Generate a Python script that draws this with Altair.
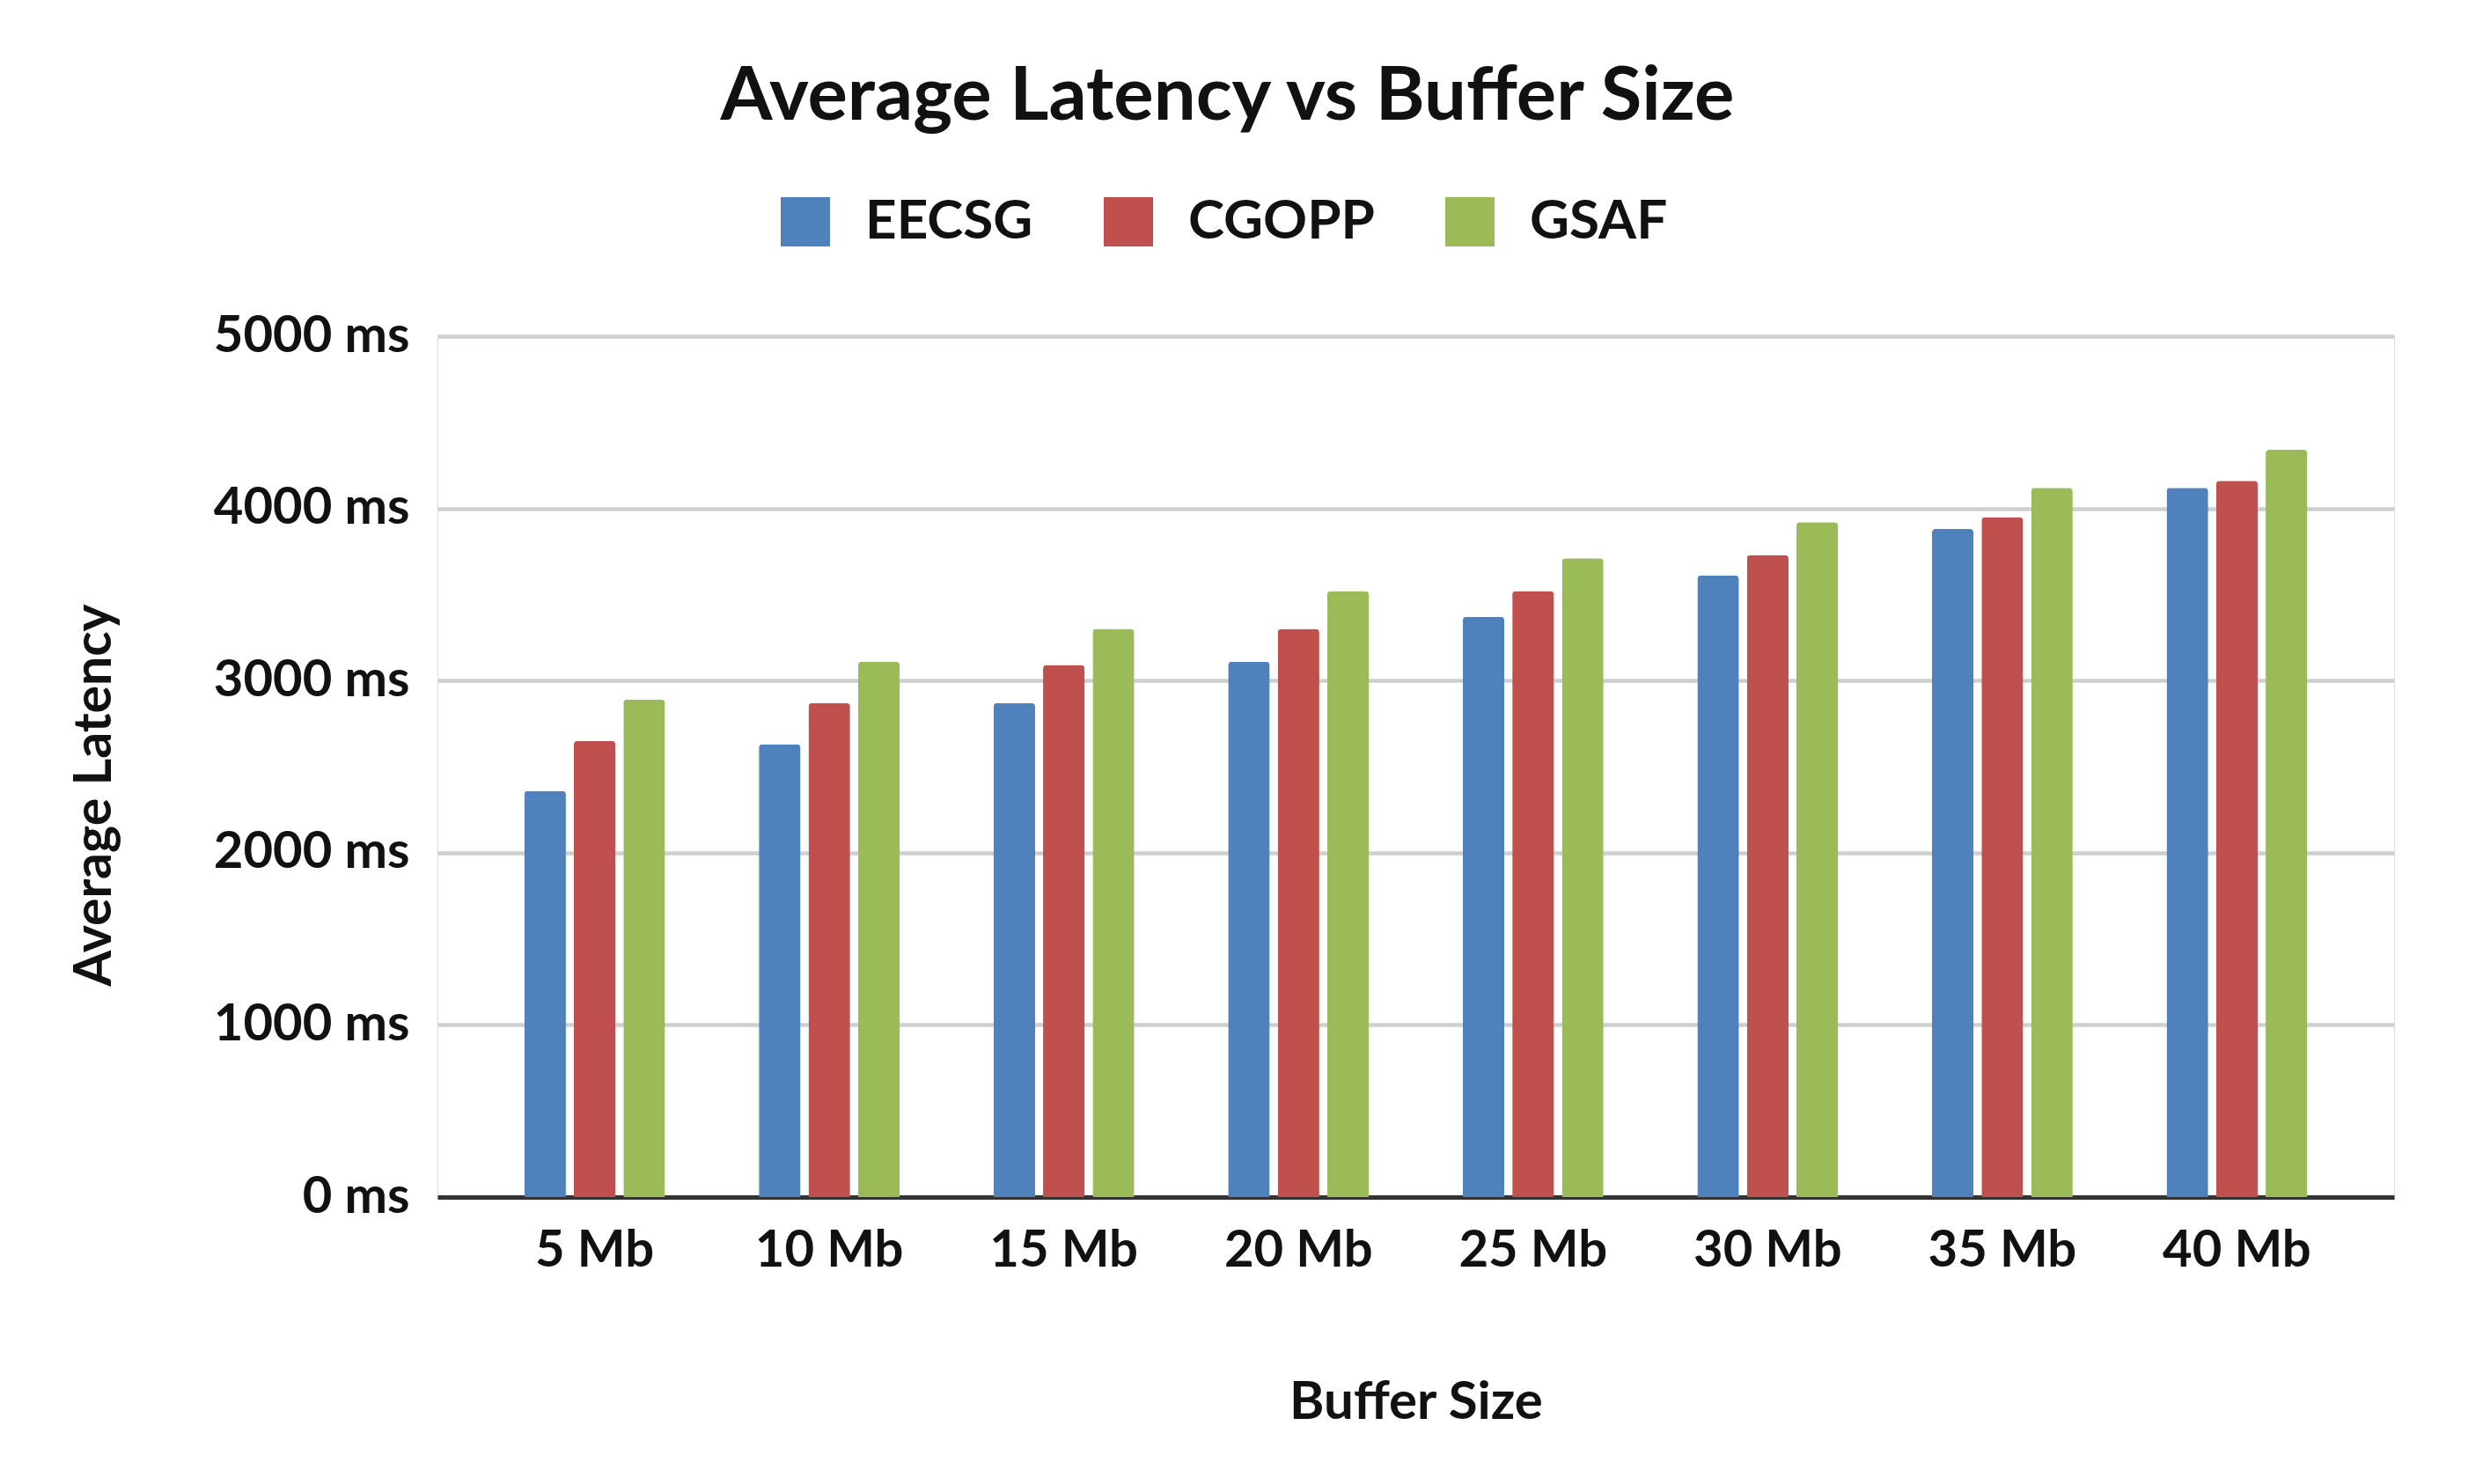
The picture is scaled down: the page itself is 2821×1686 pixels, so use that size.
import altair as alt
import pandas as pd

categories = ["5 Mb", "10 Mb", "15 Mb", "20 Mb", "25 Mb", "30 Mb", "35 Mb", "40 Mb"]
series = ["EECSG", "CGOPP", "GSAF"]
eecsg = [2360, 2630, 2870, 3110, 3370, 3610, 3880, 4120]
cgopp = [2650, 2870, 3090, 3300, 3520, 3730, 3950, 4160]
gsaf = [2890, 3110, 3300, 3520, 3710, 3920, 4120, 4340]
colors = ["#4F81BD", "#C0504D", "#9BBB59"]
y_ticks = [0, 1000, 2000, 3000, 4000, 5000]

rows = []
for name, vals in zip(series, [eecsg, cgopp, gsaf]):
    for c, v in zip(categories, vals):
        rows.append({"size": c, "method": name, "latency": v})
df = pd.DataFrame(rows)

FONT = "Lato"
TXT = "#111111"

chart = alt.Chart(df).mark_bar(
    cornerRadiusTopLeft=4, cornerRadiusTopRight=4
).encode(
    x=alt.X(
        "size:N",
        sort=categories,
        scale=alt.Scale(paddingInner=0.4, paddingOuter=0.37),
        axis=alt.Axis(
            title="Buffer Size",
            labelAngle=0,
            ticks=False,
            domain=True,
            domainColor="#333333",
            domainWidth=5,
            labelFont=FONT,
            labelFontSize=58,
            labelFontWeight="bold",
            labelColor=TXT,
            labelPadding=32,
            labelLimit=0,
            titleFont=FONT,
            titleFontSize=60,
            titleFontWeight="bold",
            titleColor=TXT,
            titleBaseline="alphabetic",
            titleY=251,
            grid=False,
        ),
    ),
    xOffset=alt.XOffset(
        "method:N", sort=series, scale=alt.Scale(paddingInner=0.16, paddingOuter=0)
    ),
    y=alt.Y(
        "latency:Q",
        scale=alt.Scale(domain=[0, 5000], nice=False),
        axis=alt.Axis(
            title="Average Latency",
            values=y_ticks,
            labelExpr="datum.value + ' ms'",
            ticks=False,
            domain=False,
            grid=True,
            gridColor="#CFCFCF",
            gridWidth=4.5,
            labelFont=FONT,
            labelFontSize=58,
            labelFontWeight="bold",
            labelColor=TXT,
            labelPadding=32,
            labelLimit=0,
            titleFont=FONT,
            titleFontSize=59,
            titleFontWeight="bold",
            titleColor=TXT,
            titleBaseline="alphabetic",
            titleX=-372,
            titleY=521,
        ),
    ),
    color=alt.Color(
        "method:N",
        sort=series,
        scale=alt.Scale(domain=series, range=colors),
        legend=alt.Legend(
            title=None,
            orient="none",
            legendX=387,
            legendY=-161,
            direction="horizontal",
            columns=3,
            columnPadding=77,
            labelOffset=37,
            labelLimit=0,
            symbolType="square",
            symbolSize=3136,
            symbolStrokeWidth=0,
            symbolOpacity=1,
            labelFont=FONT,
            labelFontSize=62,
            labelFontWeight="bold",
            labelColor=TXT,
        ),
    ),
).properties(
    width=2223,
    height=978,
    title=alt.TitleParams(
        "Average Latency vs Buffer Size",
        font=FONT,
        fontSize=85,
        fontWeight="bold",
        color=TXT,
        anchor="middle",
        frame="group",
        dx=-214,
        offset=67,
    ),
    autosize=alt.AutoSizeParams(type="none"),
    padding={"left": 489, "top": 374, "right": 80, "bottom": 300},
).configure_view(strokeWidth=0, stroke="transparent").configure(background="white")

chart.save("out.html", embed_options={"renderer": "svg", "actions": False})
